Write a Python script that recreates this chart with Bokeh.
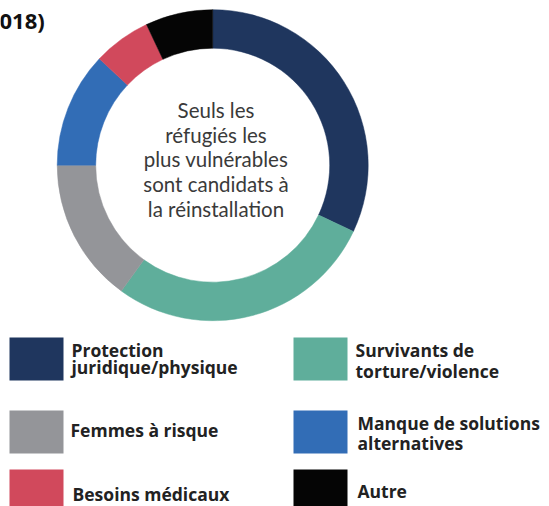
import math
from bokeh.plotting import figure
from bokeh.models import Range1d
from bokeh.core.properties import value
from bokeh.embed import file_html
from bokeh.resources import INLINE

# ---- data ----
categories = ["Protection\njuridique/physique", "Survivants de\ntorture/violence",
              "Femmes à risque", "Manque de solutions\nalternatives",
              "Besoins médicaux", "Autre"]
shares = [32, 28, 15, 12, 6, 7]
colors = ["#1f365e", "#5fae9b", "#949599", "#326db6", "#d1495c", "#050505"]
center_lines = ["Seuls les", "réfugiés les", "plus vulnérables",
                "sont candidats à", "la réinstallation"]
title_text = "018)"

W, H = 549, 506
p = figure(width=W, height=H, output_backend="svg", toolbar_location=None,
           x_range=Range1d(0, W), y_range=Range1d(0, H), min_border=0)
p.axis.visible = False
p.grid.visible = False
p.outline_line_color = None

def Y(sy):
    return H - sy

# donut
cx, cy = 212.2, Y(164.7)
total = sum(shares)
cum = 0.0
starts, ends = [], []
for s in shares:
    starts.append(math.pi / 2 - 2 * math.pi * cum / total)
    cum += s
    ends.append(math.pi / 2 - 2 * math.pi * cum / total)
p.annular_wedge(x=[cx] * len(shares), y=[cy] * len(shares), inner_radius=117,
                outer_radius=155.5, start_angle=starts, end_angle=ends,
                direction="clock", fill_color=colors, line_color=colors, line_width=0.5)

# centre text
cys = [109, 134, 158.5, 183, 208]
p.text(x=[215.5] * len(center_lines), y=[Y(v) for v in cys], text=center_lines,
       text_align="center", text_baseline="middle", text_font=value("Lato"),
       text_font_size="20.5px", text_color="#3a3a3a")

# title fragment
p.text(x=[-1], y=[Y(19)], text=[title_text], text_align="left", text_baseline="middle",
       text_font=value("Open Sans"), text_font_style="bold", text_font_size="22px",
       text_color="#111111")

# legend
sw_x = [9, 293, 9, 293, 9, 293]
sw_y = [337, 337, 410, 410, 469, 469]
tx = [71, 355, 70, 357, 72, 357]
line_ys = [[349, 366], [349, 370], [429], [422, 442], [493], [490]]
for i, cat in enumerate(categories):
    p.quad(left=sw_x[i], right=sw_x[i] + 54, top=Y(sw_y[i]), bottom=Y(sw_y[i] + 43),
           fill_color=colors[i], line_color=None)
    for ln, ly in zip(cat.split("\n"), line_ys[i]):
        p.text(x=[tx[i]], y=[Y(ly)], text=[ln], text_align="left", text_baseline="middle",
               text_font=value("Open Sans"), text_font_style="bold", text_font_size="17.5px",
               text_color="#222222")

open("out.html", "w").write(file_html(p, INLINE))
